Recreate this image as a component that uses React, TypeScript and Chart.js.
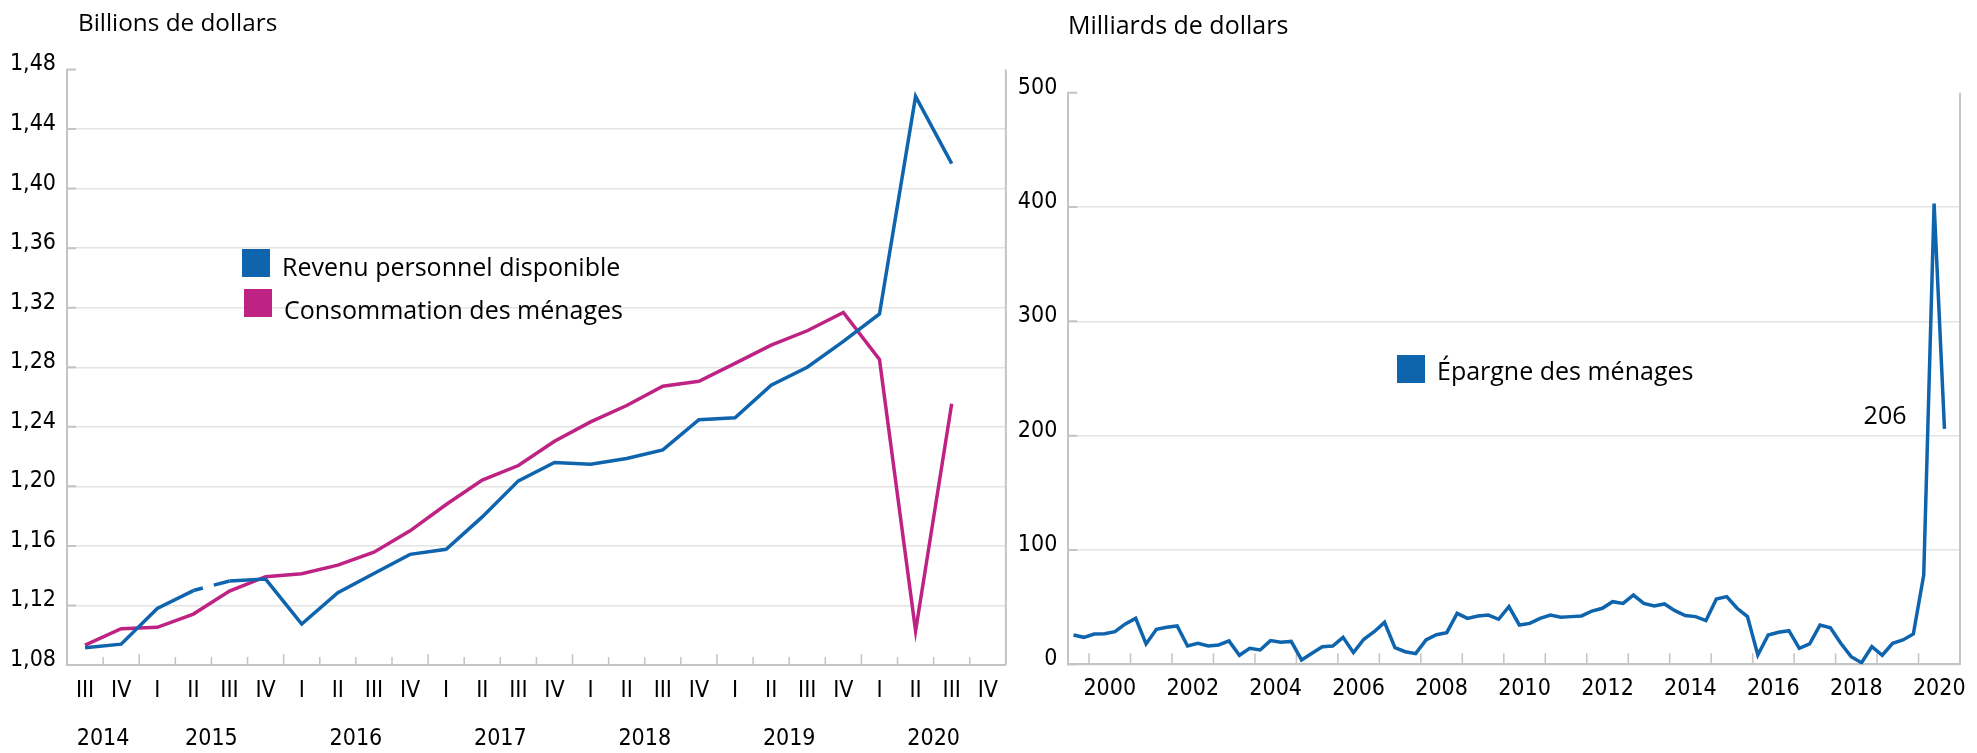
import React, { useEffect, useRef } from 'react';
import { Chart, registerables } from 'chart.js';

Chart.register(...registerables);

// ---------- Left chart : revenu vs consommation (billions de dollars) ----------
const incomeQuarterLabels = [
  'III', 'IV',
  'I', 'II', 'III', 'IV',
  'I', 'II', 'III', 'IV',
  'I', 'II', 'III', 'IV',
  'I', 'II', 'III', 'IV',
  'I', 'II', 'III', 'IV',
  'I', 'II', 'III', 'IV',
];
const incomeYearLabels = ['2014', '2015', '2016', '2017', '2018', '2019', '2020'];
const incomeYearQuarterCounts = [2, 4, 4, 4, 4, 4, 4];
const incomeYTicks = [1.08, 1.12, 1.16, 1.2, 1.24, 1.28, 1.32, 1.36, 1.4, 1.44, 1.48];

const revenuDisponible = [
  1.0916, 1.094, 1.118, 1.13, 1.1364, 1.1377, 1.1075, 1.1285, 1.1415, 1.1543,
  1.1577, 1.1795, 1.2037, 1.216, 1.2149, 1.2187, 1.2245, 1.2448, 1.2461, 1.268,
  1.28, 1.2974, 1.3158, 1.4619, 1.4168,
];
const consommationMenages = [
  1.0934, 1.1044, 1.1053, 1.1142, 1.1297, 1.1393, 1.1413, 1.1471, 1.1558, 1.1701,
  1.1878, 1.2042, 1.214, 1.2303, 1.2433, 1.2543, 1.2672, 1.2706, 1.2826, 1.2948,
  1.3045, 1.3168, 1.2852, 1.1029, 1.2555,
];

// ---------- Right chart : épargne des ménages (milliards de dollars) ----------
const savingsFirstYear = 1999;
const savingsFirstQuarter = 3;
const savingsLastYear = 2020;
const savingsYearLabels = ['2000', '2002', '2004', '2006', '2008', '2010', '2012', '2014', '2016', '2018', '2020'];
const savingsYTicks = [0, 100, 200, 300, 400, 500];
const epargneMenages = [
  25.6, 23.6, 26.5, 26.8, 28.5, 35.3, 40.2, 17.8, 30.6, 32.4,
  33.5, 16.0, 18.4, 16.0, 16.9, 20.4, 7.9, 14.0, 12.5, 20.7,
  19.2, 20.0, 3.8, 9.6, 15.4, 16.0, 23.6, 10.2, 21.9, 28.5,
  36.7, 14.5, 11.0, 9.3, 21.3, 25.9, 27.7, 44.6, 40.2, 42.3,
  43.1, 39.4, 50.4, 34.4, 35.8, 40.2, 43.1, 41.1, 41.7, 42.3,
  46.6, 49.0, 54.8, 53.3, 60.6, 53.3, 51.0, 52.8, 46.9, 42.6,
  41.7, 38.2, 57.1, 59.2, 49.0, 41.7, 8.1, 25.6, 28.0, 29.4,
  14.0, 17.8, 34.4, 32.0, 18.4, 6.7, 1.4, 15.4, 7.9, 18.4,
  21.3, 26.5, 78.1, 403.0, 206.0,
];

// ---------- styles ----------
const BLUE = '#0f64ae';
const PINK = '#be2383';
const GRID = '#e4e4e4';
const AXIS = '#c4c4c4';
const TICK_FONT = { family: "'DejaVu Sans Condensed', sans-serif", size: 23, lineHeight: 1.2 };
const TEXT_FONT = "'Open Sans', sans-serif";

// derived category labels / year tick positions
const savingsQuarterLabels: string[] = [];
for (let y = savingsFirstYear; y <= savingsLastYear; y++) {
  for (let q = 1; q <= 4; q++) {
    if (y === savingsFirstYear && q < savingsFirstQuarter) continue;
    savingsQuarterLabels.push(`${y} T${q}`);
  }
}
const savingsYearCenters = savingsYearLabels.map((yl) => savingsQuarterLabels.indexOf(`${yl} T1`) + 1.5);

const incomeYearCenters: number[] = [];
{
  let start = 0;
  incomeYearQuarterCounts.forEach((n) => {
    incomeYearCenters.push(start + (n - 1) / 2);
    start += n;
  });
}

const leftDecor = {
  id: 'leftDecor',
  beforeDatasetsDraw(chart: any) {
    const { ctx, chartArea: a, scales } = chart;
    const xs = scales.x;
    const ys = scales.y;
    ctx.save();
    ctx.strokeStyle = AXIS;
    ctx.lineWidth = 2;
    ctx.beginPath();
    ys.ticks.forEach((t: any) => {
      const py = ys.getPixelForValue(t.value);
      ctx.moveTo(a.left, py);
      ctx.lineTo(a.left + 9, py);
    });
    ctx.moveTo(a.right, a.top);
    ctx.lineTo(a.right, a.bottom);
    ctx.stroke();
    ctx.lineWidth = 1.5;
    ctx.beginPath();
    const labels = xs.getLabels();
    for (let k = 1; k < labels.length; k++) {
      const px = xs.getPixelForValue(k - 0.5);
      const len = labels[k] === 'I' ? 11 : 8;
      ctx.moveTo(px, a.bottom);
      ctx.lineTo(px, a.bottom - len);
    }
    ctx.stroke();
    ctx.restore();
  },
};

const rightDecor = {
  id: 'rightDecor',
  beforeDatasetsDraw(chart: any) {
    const { ctx, chartArea: a, scales } = chart;
    const xs = scales.x;
    const ys = scales.y;
    ctx.save();
    ctx.strokeStyle = AXIS;
    ctx.lineWidth = 2;
    ctx.beginPath();
    ys.ticks.forEach((t: any) => {
      const py = ys.getPixelForValue(t.value);
      ctx.moveTo(a.left, py);
      ctx.lineTo(a.left + 9, py);
    });
    ctx.moveTo(a.right, a.top);
    ctx.lineTo(a.right, a.bottom);
    ctx.stroke();
    ctx.lineWidth = 1.5;
    ctx.beginPath();
    const labels: string[] = xs.getLabels();
    labels.forEach((l, k) => {
      if (k > 0 && l.endsWith('T1')) {
        const px = xs.getPixelForValue(k - 0.5);
        ctx.moveTo(px, a.bottom);
        ctx.lineTo(px, a.bottom - 11);
      }
    });
    ctx.stroke();
    ctx.restore();
  },
  afterDatasetsDraw(chart: any) {
    const { ctx } = chart;
    const meta = chart.getDatasetMeta(0);
    const lastIdx = epargneMenages.length - 1;
    const pt = meta.data[lastIdx];
    if (!pt) return;
    ctx.save();
    ctx.fillStyle = '#000';
    ctx.font = `25px ${TEXT_FONT}`;
    ctx.textAlign = 'right';
    ctx.textBaseline = 'alphabetic';
    ctx.fillText(String(Math.round(epargneMenages[lastIdx])), pt.x - 38, pt.y - 5);
    ctx.restore();
  },
};

function LeftChart() {
  const ref = useRef<HTMLCanvasElement>(null);
  useEffect(() => {
    const chart = new Chart(ref.current as HTMLCanvasElement, {
      type: 'line',
      data: {
        labels: incomeQuarterLabels,
        datasets: [
          {
            label: 'Revenu personnel disponible',
            data: revenuDisponible,
            borderColor: BLUE,
            backgroundColor: BLUE,
            borderWidth: 3.5,
            pointRadius: 0,
            tension: 0,
            segment: {
              borderDash: (c: any) => (c.p0DataIndex === 3 ? [9.8, 11.3, 200, 0] : undefined),
            },
          } as any,
          {
            label: 'Consommation des ménages',
            data: consommationMenages,
            borderColor: PINK,
            backgroundColor: PINK,
            borderWidth: 3.5,
            pointRadius: 0,
            tension: 0,
          },
        ],
      },
      options: {
        responsive: false,
        animation: false,
        devicePixelRatio: 1,
        layout: { padding: { top: 69.5, right: 3.7, bottom: 0, left: 0 } },
        plugins: { legend: { display: false }, tooltip: { enabled: false }, title: { display: false } },
        scales: {
          x: {
            type: 'category',
            offset: true,
            weight: 0,
            afterFit: (s: any) => { s.height = 50; },
            grid: { display: false, drawTicks: false },
            border: { display: true, color: AXIS, width: 2 },
            ticks: { autoSkip: false, maxRotation: 0, padding: 12, color: '#000', font: TICK_FONT },
          },
          x2: {
            type: 'linear',
            position: 'bottom',
            weight: 1,
            min: -0.5,
            max: incomeQuarterLabels.length - 0.5,
            afterFit: (s: any) => { s.height = 38; },
            afterBuildTicks: (s: any) => { s.ticks = incomeYearCenters.map((v) => ({ value: v })); },
            grid: { display: false, drawTicks: false },
            border: { display: false },
            ticks: {
              autoSkip: false, maxRotation: 0, padding: 10, color: '#000', font: TICK_FONT,
              callback: (_v: any, i: number) => incomeYearLabels[i],
            },
          },
          y: {
            min: incomeYTicks[0],
            max: incomeYTicks[incomeYTicks.length - 1],
            afterFit: (s: any) => { s.width = 67; },
            afterBuildTicks: (s: any) => { s.ticks = incomeYTicks.map((v) => ({ value: v })); },
            grid: {
              drawTicks: false,
              lineWidth: 1.5,
              color: (c: any) => (c.tick && Math.abs(c.tick.value - incomeYTicks[incomeYTicks.length - 1]) < 1e-9 ? 'rgba(0,0,0,0)' : GRID),
            },
            border: { display: true, color: AXIS, width: 2 },
            ticks: {
              padding: 11, labelOffset: -5, color: '#000', font: TICK_FONT,
              callback: (v: any) => Number(v).toFixed(2).replace('.', ','),
            },
          },
        },
      } as any,
      plugins: [leftDecor],
    });
    return () => chart.destroy();
  }, []);
  return (
    <canvas
      ref={ref}
      width={1010}
      height={753}
      style={{ position: 'absolute', left: 0, top: 0, width: 1010, height: 753 }}
    />
  );
}

function RightChart() {
  const ref = useRef<HTMLCanvasElement>(null);
  useEffect(() => {
    const chart = new Chart(ref.current as HTMLCanvasElement, {
      type: 'line',
      data: {
        labels: savingsQuarterLabels,
        datasets: [
          {
            label: 'Épargne des ménages',
            data: epargneMenages,
            borderColor: BLUE,
            backgroundColor: BLUE,
            borderWidth: 3.5,
            pointRadius: 0,
            tension: 0,
          },
        ],
      },
      options: {
        responsive: false,
        animation: false,
        devicePixelRatio: 1,
        layout: { padding: { top: 92.7, right: 15, bottom: 0, left: 0 } },
        plugins: { legend: { display: false }, tooltip: { enabled: false }, title: { display: false } },
        scales: {
          x: {
            type: 'category',
            offset: true,
            display: false,
          },
          x2: {
            type: 'linear',
            position: 'bottom',
            weight: 1,
            min: -0.5,
            max: savingsQuarterLabels.length - 0.5,
            afterFit: (s: any) => { s.height = 88.7; },
            afterBuildTicks: (s: any) => { s.ticks = savingsYearCenters.map((v) => ({ value: v })); },
            grid: { display: false, drawTicks: false },
            border: { display: true, color: AXIS, width: 2 },
            ticks: {
              autoSkip: false, maxRotation: 0, padding: 11, color: '#000', font: TICK_FONT,
              callback: (_v: any, i: number) => savingsYearLabels[i],
            },
          },
          y: {
            min: savingsYTicks[0],
            max: savingsYTicks[savingsYTicks.length - 1],
            afterFit: (s: any) => { s.width = 60.3; },
            afterBuildTicks: (s: any) => { s.ticks = savingsYTicks.map((v) => ({ value: v })); },
            grid: {
              drawTicks: false,
              lineWidth: 1.5,
              color: (c: any) => (c.tick && c.tick.value === savingsYTicks[savingsYTicks.length - 1] ? 'rgba(0,0,0,0)' : GRID),
            },
            border: { display: true, color: AXIS, width: 2 },
            ticks: { padding: 11, labelOffset: -5, color: '#000', font: TICK_FONT },
          },
        },
      } as any,
      plugins: [rightDecor],
    });
    return () => chart.destroy();
  }, []);
  return (
    <canvas
      ref={ref}
      width={969}
      height={753}
      style={{ position: 'absolute', left: 1008, top: 0, width: 969, height: 753 }}
    />
  );
}

const textStyle: React.CSSProperties = {
  position: 'absolute',
  fontFamily: TEXT_FONT,
  fontSize: 25,
  lineHeight: '30px',
  whiteSpace: 'nowrap',
  color: '#000',
};

function Swatch({ left, top, color }: { left: number; top: number; color: string }) {
  return <div style={{ position: 'absolute', left, top, width: 28, height: 28, background: color }} />;
}

export default function App() {
  return (
    <div style={{ position: 'absolute', left: 0, top: 0, width: 1977, height: 753, background: '#fff', overflow: 'hidden' }}>
      <LeftChart />
      <RightChart />
      <div style={{ ...textStyle, left: 78, top: 6.5, fontSize: 24.3 }}>Billions de dollars</div>
      <div style={{ ...textStyle, left: 1068, top: 8.5 }}>Milliards de dollars</div>
      <Swatch left={242} top={249} color={BLUE} />
      <div style={{ ...textStyle, left: 282, top: 251.3 }}>Revenu personnel disponible</div>
      <Swatch left={244} top={289} color={PINK} />
      <div style={{ ...textStyle, left: 284, top: 294.3 }}>Consommation des ménages</div>
      <Swatch left={1397} top={355} color={BLUE} />
      <div style={{ ...textStyle, left: 1437, top: 355 }}>Épargne des ménages</div>
    </div>
  );
}
